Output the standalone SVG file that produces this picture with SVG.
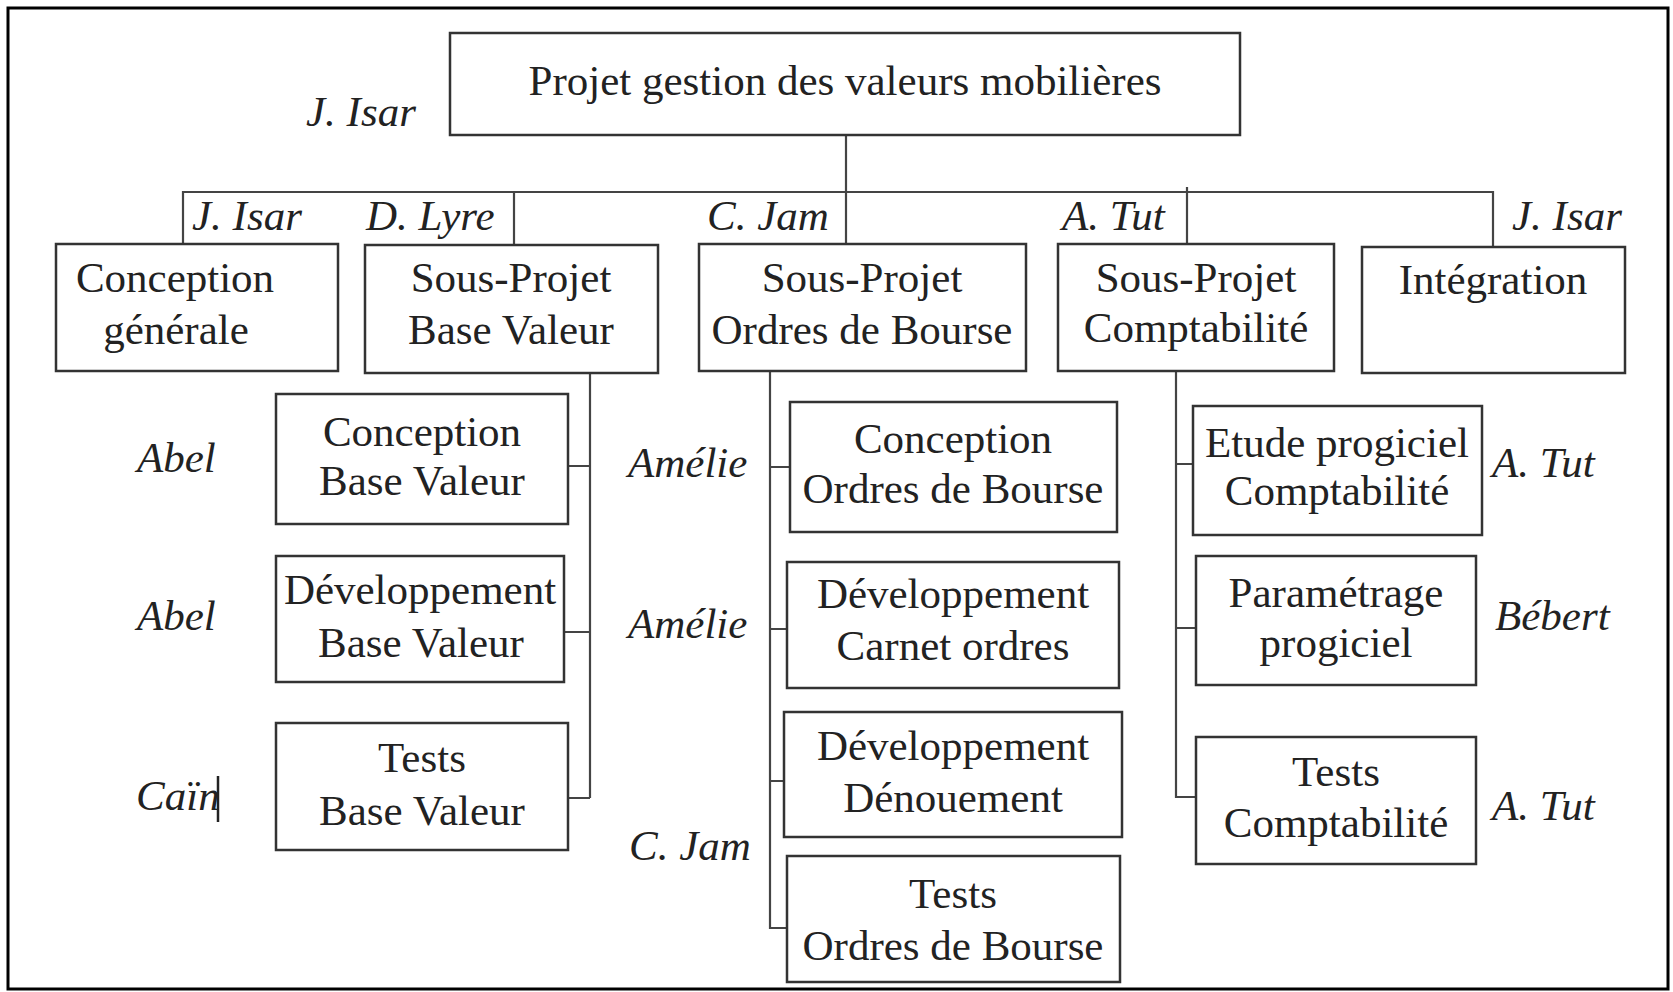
<svg xmlns="http://www.w3.org/2000/svg" width="1673" height="992" viewBox="0 0 1673 992">
<style>
.box{fill:#fff;stroke:#333;stroke-width:2.5}
.t{font-family:'Liberation Serif','Times New Roman',serif;font-size:43px;fill:#222;text-anchor:middle}
.l{font-family:'Liberation Serif','Times New Roman',serif;font-size:43px;font-style:italic;fill:#222}
.c{fill:none;stroke:#444;stroke-width:2.2}
</style>
<rect x="0" y="0" width="1673" height="992" fill="#fff"/>
<rect x="8" y="8" width="1660" height="981" fill="none" stroke="#000" stroke-width="3"/>
<g id="connectors">
<path class="c" d="M846,135 V243 M183,244 V192 H1493 V246 M514,192 V244 M1187,187 V244"/>
<path class="c" d="M590,373 V798 M568,466 H590 M564,632 H590 M568,798 H590"/>
<path class="c" d="M770,371 V928 H787 M770,467 H790 M770,629 H787 M770,781 H784"/>
<path class="c" d="M1176,371 V797 H1196 M1176,464 H1193 M1176,628 H1196"/>
<line x1="218" y1="776" x2="218" y2="822" stroke="#222" stroke-width="2.5"/>
</g>
<g id="n-root"><rect class="box" x="450" y="33" width="790" height="102"/><text class="t" x="845" y="95">Projet gestion des valeurs mobilières</text><text class="l" x="306" y="126">J. Isar</text></g>
<g id="n-conception-generale"><rect class="box" x="56" y="244" width="282" height="127"/><text class="t" x="175" y="292">Conception</text><text class="t" x="176" y="344">générale</text><text class="l" x="192" y="230">J. Isar</text></g>
<g id="n-sp-base-valeur"><rect class="box" x="365" y="245" width="293" height="128"/><text class="t" x="511" y="292">Sous-Projet</text><text class="t" x="511" y="344">Base Valeur</text><text class="l" x="366" y="230">D. Lyre</text></g>
<g id="n-sp-ordres"><rect class="box" x="699" y="244" width="327" height="127"/><text class="t" x="862" y="292">Sous-Projet</text><text class="t" x="862" y="344">Ordres de Bourse</text><text class="l" x="707" y="230">C. Jam</text></g>
<g id="n-sp-compta"><rect class="box" x="1058" y="244" width="276" height="127"/><text class="t" x="1196" y="292">Sous-Projet</text><text class="t" x="1196" y="342">Comptabilité</text><text class="l" x="1062" y="230">A. Tut</text></g>
<g id="n-integration"><rect class="box" x="1362" y="247" width="263" height="126"/><text class="t" x="1493" y="294">Intégration</text><text class="l" x="1512" y="230">J. Isar</text></g>
<g id="n-conc-bv"><rect class="box" x="276" y="394" width="292" height="130"/><text class="t" x="422" y="446">Conception</text><text class="t" x="422" y="495">Base Valeur</text><text class="l" x="137" y="472">Abel</text></g>
<g id="n-dev-bv"><rect class="box" x="276" y="556" width="288" height="126"/><text class="t" x="420" y="604">Développement</text><text class="t" x="421" y="657">Base Valeur</text><text class="l" x="137" y="630">Abel</text></g>
<g id="n-tests-bv"><rect class="box" x="276" y="723" width="292" height="127"/><text class="t" x="422" y="772">Tests</text><text class="t" x="422" y="825">Base Valeur</text><text class="l" x="136" y="810">Caïn</text></g>
<g id="n-conc-odb"><rect class="box" x="790" y="402" width="327" height="130"/><text class="t" x="953" y="453">Conception</text><text class="t" x="953" y="503">Ordres de Bourse</text><text class="l" x="628" y="477">Amélie</text></g>
<g id="n-dev-carnet"><rect class="box" x="787" y="562" width="332" height="126"/><text class="t" x="953" y="608">Développement</text><text class="t" x="953" y="660">Carnet ordres</text><text class="l" x="628" y="638">Amélie</text></g>
<g id="n-dev-denouement"><rect class="box" x="784" y="712" width="338" height="125"/><text class="t" x="953" y="760">Développement</text><text class="t" x="953" y="812">Dénouement</text></g>
<g id="n-tests-odb"><rect class="box" x="787" y="856" width="333" height="126"/><text class="t" x="953" y="908">Tests</text><text class="t" x="953" y="960">Ordres de Bourse</text><text class="l" x="629" y="860">C. Jam</text></g>
<g id="n-etude"><rect class="box" x="1193" y="406" width="289" height="129"/><text class="t" x="1337" y="457">Etude progiciel</text><text class="t" x="1337" y="505">Comptabilité</text><text class="l" x="1492" y="477">A. Tut</text></g>
<g id="n-param"><rect class="box" x="1196" y="556" width="280" height="129"/><text class="t" x="1336" y="607">Paramétrage</text><text class="t" x="1336" y="657">progiciel</text><text class="l" x="1495" y="630">Bébert</text></g>
<g id="n-tests-compta"><rect class="box" x="1196" y="737" width="280" height="127"/><text class="t" x="1336" y="786">Tests</text><text class="t" x="1336" y="837">Comptabilité</text><text class="l" x="1492" y="820">A. Tut</text></g>
</svg>
